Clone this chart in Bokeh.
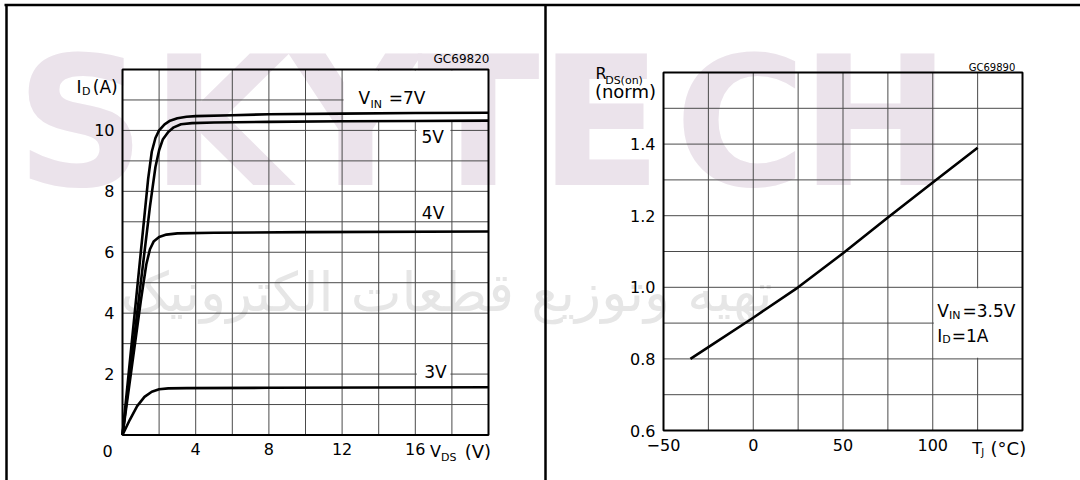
from bokeh.plotting import figure
from bokeh.models import FixedTicker, Label, Range1d, CustomJSTickFormatter, LinearAxis
from bokeh.core.properties import value
from bokeh.embed import file_html
from bokeh.resources import INLINE

FONT = "DejaVu Sans"

# ---------------- left chart: output characteristics ----------------
vds_7v = [0, 0.5, 1.0, 1.4, 1.6, 1.8, 2.0, 2.3, 2.6, 3.0, 3.5, 4.0, 6.0, 8.0, 12.0, 16.0, 20.0]
id_7v = [0, 3.0, 6.0, 8.4, 9.3, 9.75, 10.0, 10.2, 10.32, 10.4, 10.45, 10.47, 10.5, 10.53, 10.55, 10.57, 10.58]
vds_5v = [0, 0.5, 1.0, 1.5, 1.8, 2.0, 2.2, 2.5, 2.8, 3.2, 3.8, 5.0, 8.0, 12.0, 16.0, 20.0]
id_5v = [0, 2.5, 5.0, 7.5, 8.8, 9.35, 9.7, 9.95, 10.1, 10.2, 10.24, 10.26, 10.28, 10.3, 10.31, 10.32]
vds_4v = [0, 0.5, 1.0, 1.3, 1.5, 1.7, 2.0, 2.4, 3.0, 5.0, 10.0, 20.0]
id_4v = [0, 2.2, 4.4, 5.6, 6.1, 6.35, 6.5, 6.58, 6.62, 6.64, 6.66, 6.68]
vds_3v = [0, 0.4, 0.8, 1.2, 1.6, 2.0, 2.5, 3.5, 8.0, 14.0, 20.0]
id_3v = [0, 0.5, 0.95, 1.25, 1.42, 1.5, 1.53, 1.54, 1.55, 1.56, 1.57]

left_x_ticks = [4, 8, 12, 16]
left_y_ticks = [2, 4, 6, 8, 10]
left_x_grid = [2, 4, 6, 8, 10, 12, 14, 16, 18]
left_y_grid = [1, 2, 3, 4, 5, 6, 7, 8, 9, 10, 11]
left_xlim = (0, 20)
left_ylim = (0, 12)

# white cells behind the curve labels (hide grid there)
box_left = [12.08, 16.08, 16.08]
box_right = [20.0, 17.92, 17.92]
box_bottom = [10.3, 9.5, 1.6]
box_top = [11.97, 10.3, 2.5]

# ---------------- right chart: R_DS(on) vs T_J ----------------
tj = [-35, -25, 0, 25, 50, 75, 100, 125]
rds_norm = [0.80, 0.833, 0.915, 1.0, 1.095, 1.195, 1.293, 1.39]

right_x_ticks = [-50, 0, 50, 100]
right_y_ticks = [0.6, 0.8, 1.0, 1.2, 1.4]
right_x_grid = [-25, 0, 25, 50, 75, 100, 125]
right_y_grid = [0.7, 0.8, 0.9, 1.0, 1.1, 1.2, 1.3, 1.4, 1.5]
right_xlim = (-50, 150)
right_ylim = (0.6, 1.6)

# ---------------- page layout (pixels) ----------------
W, H = 1080, 480
L_BOX = (122, 488, 434.5, 69)   # px of left chart: x-min, x-max, y-min, y-max
R_BOX = (663, 1022, 430, 72)    # px of right chart
GRID = "#4a4a4a"
WM_PINK = "#ebe3eb"
WM_GRAY = "#e6e6e6"


def px_map(lim, p0, p1):
    s = (lim[1] - lim[0]) / (p1 - p0)
    return lambda px: lim[0] + (px - p0) * s


lx = px_map(left_xlim, L_BOX[0], L_BOX[1])
ly = px_map(left_ylim, L_BOX[2], L_BOX[3])
rx = px_map(right_xlim, R_BOX[0], R_BOX[1])
ry = px_map(right_ylim, R_BOX[2], R_BOX[3])

p = figure(width=W, height=H, output_backend="svg", toolbar_location=None,
           x_range=Range1d(lx(0), lx(W)), y_range=Range1d(ly(H), ly(0)),
           min_border=0)
p.extra_x_ranges = {"rx": Range1d(rx(0), rx(W))}
p.extra_y_ranges = {"ry": Range1d(ry(H), ry(0))}
p.outline_line_color = None
p.background_fill_color = "white"
p.border_fill_color = "white"
p.grid.visible = False

R = dict(x_range_name="rx", y_range_name="ry")

# ---------- watermark (drawn first, beneath everything) ----------
wm_letters = ["S", "K", "Y", "T", "E", "C", "H"]
wm_centers_px = [80, 220, 355, 478, 600, 740, 875]
p.text(x=[lx(c) for c in wm_centers_px], y=[ly(122)] * len(wm_letters), text=wm_letters,
       text_font=value(FONT), text_font_size=value("180px"), text_font_style="bold",
       text_color=WM_PINK, text_align="center", text_baseline="middle")
wm_text = "تهیه وتوزیع قطعات الکترونیک"
p.text(x=[lx(772)], y=[ly(292)], text=[wm_text],
       text_font=value(FONT), text_font_size=value("54px"), text_font_style="normal",
       text_color=WM_GRAY, text_align="right", text_baseline="middle")

# ---------- panel borders ----------
p.segment(x0=[lx(6), lx(4), lx(545)], y0=[ly(480), ly(4.5), ly(480)],
          x1=[lx(6), lx(W), lx(545)], y1=[ly(4.5), ly(4.5), ly(4.5)],
          line_color="black", line_width=2.5)

# ---------- left chart ----------
p.segment(x0=left_x_grid, x1=left_x_grid, y0=[left_ylim[0]] * len(left_x_grid),
          y1=[left_ylim[1]] * len(left_x_grid), line_color=GRID, line_width=1)
p.segment(y0=left_y_grid, y1=left_y_grid, x0=[left_xlim[0]] * len(left_y_grid),
          x1=[left_xlim[1]] * len(left_y_grid), line_color=GRID, line_width=1)
p.quad(left=box_left, right=box_right, bottom=box_bottom, top=box_top,
       fill_color="white", line_color=None)
p.quad(left=[left_xlim[0]], right=[left_xlim[1]], bottom=[left_ylim[0]], top=[left_ylim[1]],
       fill_color=None, line_color="black", line_width=2)
for xs, ys in ((vds_7v, id_7v), (vds_5v, id_5v), (vds_4v, id_4v), (vds_3v, id_3v)):
    p.line(xs, ys, line_color="black", line_width=2.6, line_join="round")

# ---------- right chart ----------
p.segment(x0=right_x_grid, x1=right_x_grid, y0=[right_ylim[0]] * len(right_x_grid),
          y1=[right_ylim[1]] * len(right_x_grid), line_color=GRID, line_width=1, **R)
p.segment(y0=right_y_grid, y1=right_y_grid, x0=[right_xlim[0]] * len(right_y_grid),
          x1=[right_xlim[1]] * len(right_y_grid), line_color=GRID, line_width=1, **R)
p.quad(left=[100.6], right=[150], bottom=[0.803], top=[0.997],
       fill_color="white", line_color=None, **R)
p.quad(left=[right_xlim[0]], right=[right_xlim[1]], bottom=[right_ylim[0]], top=[right_ylim[1]],
       fill_color=None, line_color="black", line_width=2, **R)
p.line(tj, rds_norm, line_color="black", line_width=2.6, line_join="round", **R)


# ---------- axes ----------
def style_axis(ax, standoff):
    ax.axis_line_color = None
    ax.major_tick_line_color = None
    ax.minor_tick_line_color = None
    ax.major_tick_out = 0
    ax.major_tick_in = 0
    ax.minor_tick_out = 0
    ax.minor_tick_in = 0
    ax.major_label_text_font = FONT
    ax.major_label_text_font_size = "16px"
    ax.major_label_text_color = "black"
    ax.major_label_standoff = standoff


p.xaxis.fixed_location = left_ylim[0]
p.xaxis.ticker = FixedTicker(ticks=left_x_ticks)
p.yaxis.fixed_location = left_xlim[0]
p.yaxis.ticker = FixedTicker(ticks=left_y_ticks)
style_axis(p.xaxis[0], 8)
style_axis(p.yaxis[0], 8)

rxa = LinearAxis(fixed_location=right_ylim[0], ticker=FixedTicker(ticks=right_x_ticks),
                 formatter=CustomJSTickFormatter(code="return tick < 0 ? '\u2212' + Math.abs(tick) : '' + tick;"),
                 **R)
rya = LinearAxis(fixed_location=right_xlim[0], ticker=FixedTicker(ticks=right_y_ticks),
                 formatter=CustomJSTickFormatter(code="return tick.toFixed(1);"), **R)
style_axis(rxa, 8)
style_axis(rya, 8)
p.add_layout(rxa, "below")
p.add_layout(rya, "left")


# ---------- texts ----------
def lab(x, y, text, size=17, align="left", right=False):
    kw = R if right else {}
    p.add_layout(Label(x=x, y=y, text=text, text_font=FONT, text_font_size=f"{size}px",
                       text_align=align, text_baseline="middle", text_color="black", **kw))


lab(-2.51, 11.44, "I")
lab(-2.21, 11.27, "D", size=11)
lab(-1.62, 11.44, "(A)")
lab(12.9, 11.05, "V")
lab(13.55, 10.86, "IN", size=11)
lab(14.55, 11.05, "=7V")
lab(16.95, 9.8, "5V", align="center")
lab(16.97, 7.3, "4V", align="center")
lab(17.1, 2.08, "3V", align="center")
lab(20.05, 12.36, "GC69820", size=12, align="right")
lab(-0.82, -0.54, "0", size=16, align="center")
lab(16.8, -0.54, "V", size=16)
lab(17.4, -0.74, "DS", size=11)
lab(18.7, -0.54, "(V)", size=18)

lab(-87.9, 1.597, "R", size=16, right=True)
lab(-82.5, 1.578, "DS(on)", size=11, right=True)
lab(-88.2, 1.547, "(norm)", size=18, right=True)
lab(146, 1.615, "GC69890", size=10, align="right", right=True)
lab(102.5, 0.935, "V", right=True)
lab(109.0, 0.92, "IN", size=11, right=True)
lab(116.6, 0.935, "=3.5V", right=True)
lab(102.5, 0.865, "I", right=True)
lab(105.3, 0.853, "D", size=11, right=True)
lab(110.6, 0.865, "=1A", right=True)
lab(122.0, 0.551, "T", size=16, right=True)
lab(127.0, 0.538, "J", size=10, right=True)
lab(132.2, 0.551, "(°C)", size=18, right=True)

open("out.html", "w").write(file_html(p, INLINE))
